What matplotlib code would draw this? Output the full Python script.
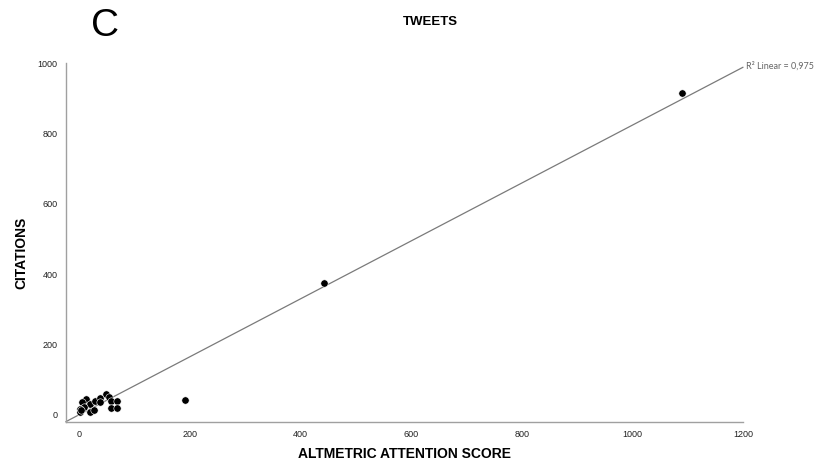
import numpy as np
import matplotlib
matplotlib.use("Agg")
import matplotlib.pyplot as plt

# Altmetric attention score (x) vs. citations (y) for tweeted articles
attention = [12, 5, 19, 8, 1, 1, 4, 20, 26, 29, 37, 38, 48, 53, 57, 69, 57, 69,
             191, 442, 1090]
citations = [45, 36, 30, 24, 17, 8, 14, 9, 14, 41, 48, 38, 59, 52, 41, 41, 19, 19,
             43, 376, 915]
x_ticks = [0, 200, 400, 600, 800, 1000, 1200]
y_ticks = [0, 200, 400, 600, 800, 1000]
r2_label = "R\u00b2 Linear = 0,975"

x = np.array(attention, dtype=float)
y = np.array(citations, dtype=float)
slope, intercept = np.polyfit(x, y, 1)

plt.rcParams["font.family"] = ["Liberation Sans", "DejaVu Sans"]

fig = plt.figure(figsize=(8.3, 4.65), dpi=100)
ax = fig.add_axes([0.0795, 0.0925, 0.8155, 0.772])

xlim = (-24, 1200)
ylim = (-20, 1000)
ax.set_xlim(*xlim)
ax.set_ylim(*ylim)

# fitted line across the whole x range
xs = np.array(xlim)
ax.plot(xs, intercept + slope * xs, color="#7a7a7a", lw=0.9, zorder=2,
        clip_on=False)

ax.scatter(x, y, s=28, color="black", edgecolors="white", linewidths=0.4,
           zorder=3)

for side in ("top", "right"):
    ax.spines[side].set_visible(False)
for side in ("left", "bottom"):
    ax.spines[side].set_color("#a0a0a0")
    ax.spines[side].set_linewidth(1.0)

ax.set_xticks(x_ticks)
ax.set_yticks(y_ticks)
ax.tick_params(axis="both", length=0, labelsize=6.5, labelcolor="#222222")
ax.tick_params(axis="x", pad=6)
ax.tick_params(axis="y", pad=6)

ax.set_xlabel("ALTMETRIC ATTENTION SCORE", fontsize=10, fontweight="bold")
ax.xaxis.set_label_coords((405 - 66) / 677, -0.07)
ax.set_ylabel("CITATIONS", fontsize=10, fontweight="bold")
ax.yaxis.set_label_coords(-0.055, 0.47)

ax.text(1.004, intercept + slope * 1200 + 5, r2_label,
        transform=ax.get_yaxis_transform(), fontsize=6.5, color="#666666",
        family=["Lato", "DejaVu Sans"], va="center", ha="left")

fig.text(430 / 830, 1 - 22 / 465, "TWEETS", fontsize=9.5, fontweight="bold",
         ha="center", va="center")
fig.text(105 / 830, 1 - 26 / 465, "C", fontsize=28, ha="center", va="center")

fig.savefig("out.png", dpi=100, facecolor="white")
